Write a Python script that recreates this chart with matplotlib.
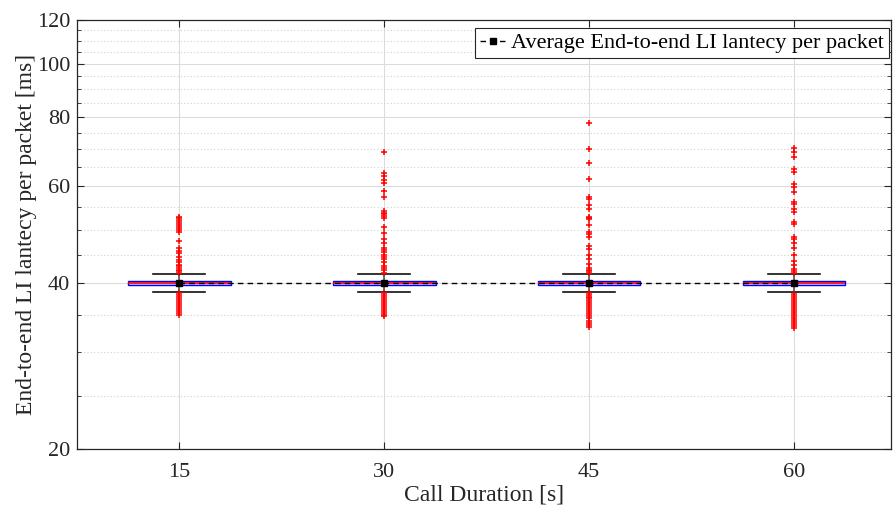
import matplotlib
matplotlib.use("Agg")
import matplotlib.pyplot as plt
from matplotlib.ticker import FixedLocator, NullFormatter

plt.rcParams['font.family'] = ['Liberation Serif', 'DejaVu Serif']

durations = [15, 30, 45, 60]
q1 = [39.6, 39.6, 39.6, 39.6]
median = [40.0, 40.0, 40.0, 40.0]
q3 = [40.3, 40.3, 40.3, 40.3]
whisk_lo = [38.5, 38.5, 38.5, 38.5]
whisk_hi = [41.5, 41.5, 41.5, 41.5]
mean_latency = [40.0, 40.0, 40.0, 40.0]

outliers_15 = [52.8, 52.4, 52.0, 51.6, 51.2, 50.8, 50.4, 49.9, 49.6, 47.7, 46.3, 45.8, 45.3,
               44.6, 44.0, 43.6, 43.2, 42.9, 42.6, 42.3, 42.0, 41.8,
               38.3, 38.0, 37.7, 37.4, 37.1, 36.8, 36.5, 36.2, 35.9, 35.6, 35.3, 35.0]
outliers_30 = [69.0, 63.3, 62.6, 61.5, 60.7, 58.8, 57.4, 54.1, 53.7, 53.4, 52.9, 52.4, 50.5,
               49.4, 48.0, 47.2, 46.3, 45.9, 45.6, 45.0, 44.6, 44.3, 43.7, 43.0, 42.6, 42.2,
               41.8, 38.3, 38.0, 37.7, 37.4, 37.1, 36.8, 36.5, 36.2, 35.9, 35.6, 35.3, 35.0, 34.8]
outliers_45 = [78.0, 69.9, 66.1, 61.8, 57.4, 56.8, 55.4, 54.4, 52.8, 52.5, 52.2, 51.0, 49.6,
               49.1, 48.5, 46.7, 46.1, 45.0, 44.3, 43.4, 42.6, 42.3, 42.0, 41.7,
               38.4, 38.1, 37.8, 37.5, 37.2, 36.9, 36.6, 36.3, 36.0, 35.7, 35.4, 35.1,
               34.8, 34.5, 34.2, 33.9, 33.6, 33.3]
outliers_60 = [70.4, 69.2, 67.8, 64.3, 63.7, 60.4, 59.8, 58.6, 56.2, 55.6, 54.5, 53.8, 51.7,
               51.1, 48.5, 48.0, 47.2, 46.3, 45.0, 43.9, 43.2, 42.5, 42.1, 41.7,
               38.2, 37.9, 37.6, 37.3, 37.0, 36.7, 36.4, 36.1, 35.8, 35.5, 35.2, 34.9,
               34.6, 34.3, 34.0, 33.7, 33.4, 33.1]
outliers = [outliers_15, outliers_30, outliers_45, outliers_60]

y_major = [20, 40, 60, 80, 100, 120]
y_minor = [25, 30, 35, 45, 50, 55, 65, 70, 75, 85, 90, 95, 105, 110, 115]

fig = plt.figure(figsize=(8.93, 5.11), dpi=100)
ax = fig.add_axes([77/893, 1 - 449/511, (891 - 77)/893, (449 - 20)/511])

stats = []
for i in range(len(durations)):
    stats.append(dict(med=median[i], q1=q1[i], q3=q3[i], whislo=whisk_lo[i],
                      whishi=whisk_hi[i], fliers=outliers[i], mean=mean_latency[i]))

bp = ax.bxp(stats, positions=durations, widths=7.5, patch_artist=True,
            showfliers=True, showmeans=False,
            boxprops=dict(facecolor='#c9c9ff', edgecolor='#0000ff', linewidth=1.0),
            medianprops=dict(color='#ff0000', linewidth=1.2),
            whiskerprops=dict(color='#555555', linewidth=1.2, linestyle='-'),
            capprops=dict(color='#111111', linewidth=1.2),
            capwidths=3.8,
            flierprops=dict(marker='+', markeredgecolor='#ff0000', markersize=4.5,
                            markeredgewidth=1.1, linestyle='none'),
            zorder=3)

ax.plot(durations, mean_latency, linestyle='--', color='black', marker='s',
        markersize=4.5, linewidth=1.0, dashes=(4, 3), zorder=5,
        label='Average End-to-end LI lantecy per packet')

ax.set_yscale('log')
ax.set_ylim(20, 120)
ax.set_xlim(7.5, 67.1)
ax.yaxis.set_major_locator(FixedLocator(y_major))
ax.yaxis.set_minor_locator(FixedLocator(y_minor))
ax.yaxis.set_minor_formatter(NullFormatter())
ax.set_yticklabels([str(v) for v in y_major])
ax.set_xticks(durations)
ax.set_xticklabels([str(d) for d in durations])

ax.grid(True, which='major', axis='both', color='#dcdcdc', linewidth=0.8, linestyle='-', zorder=0)
ax.grid(True, which='minor', axis='y', color='#d0d0d0', linewidth=0.8, linestyle=(0, (1, 2)), zorder=0)
ax.set_axisbelow(True)

for sp in ax.spines.values():
    sp.set_color('#262626')
    sp.set_linewidth(0.9)

ax.tick_params(axis='both', which='both', direction='in', top=True, right=True,
               colors='#262626', labelsize=16, labelcolor='#262626')
ax.tick_params(axis='both', which='major', length=5)
ax.tick_params(axis='x', which='major', pad=10)
ax.tick_params(axis='y', which='major', pad=5)
ax.tick_params(axis='y', which='minor', length=3)

ax.set_xlabel('Call Duration [s]', fontsize=17, color='#262626', labelpad=2)
ax.set_ylabel('End-to-end LI lantecy per packet [ms]', fontsize=17, color='#262626', labelpad=0)

leg = ax.legend(loc='upper right', fontsize=16, frameon=True, fancybox=False,
                edgecolor='#262626', framealpha=1.0, handlelength=1.2, handletextpad=0.2,
                borderpad=0.22, borderaxespad=0,
                bbox_to_anchor=(889/893, 1 - 28/511), bbox_transform=fig.transFigure)
leg.get_frame().set_linewidth(0.8)

fig.savefig('out.png', dpi=100)
